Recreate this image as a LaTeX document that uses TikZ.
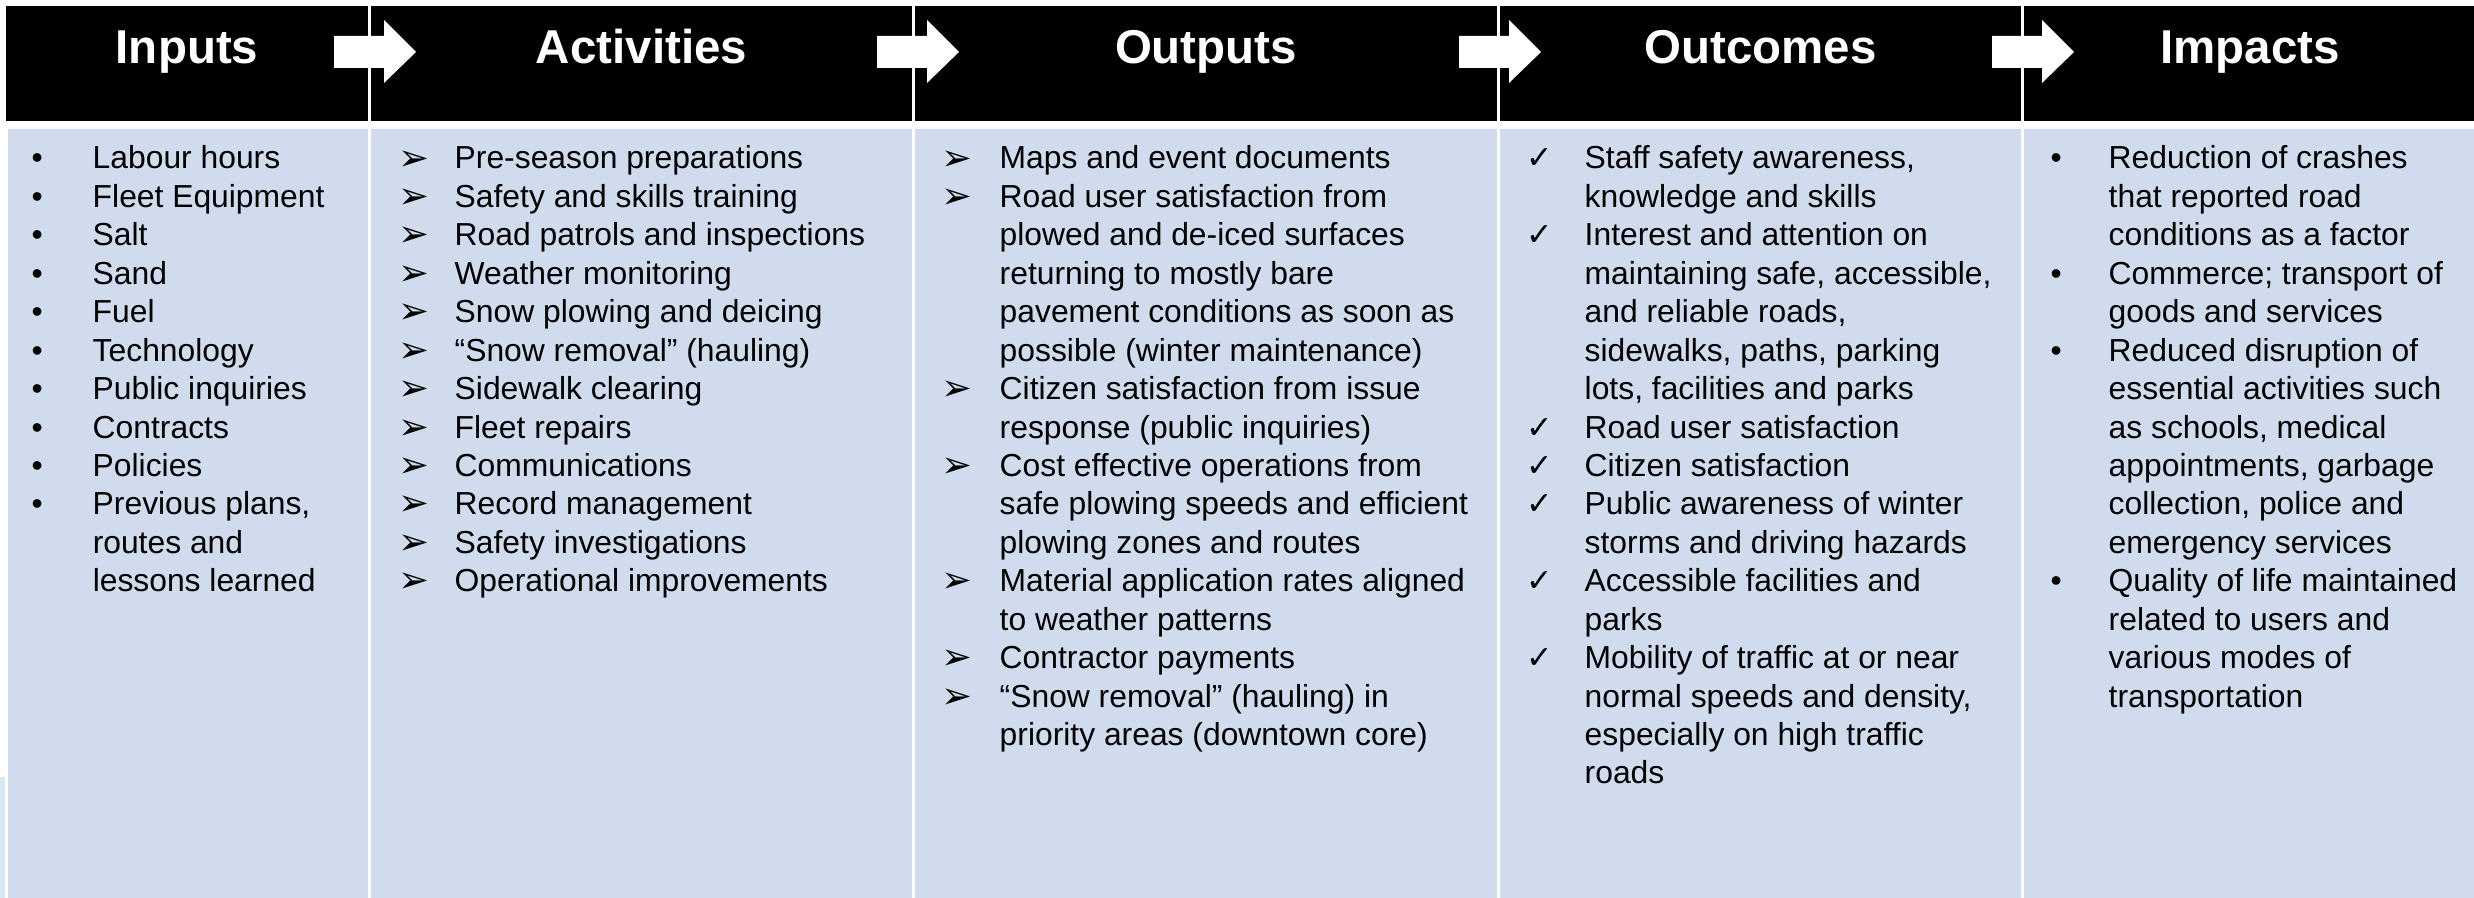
\documentclass[tikz,border=0pt]{standalone}
\usepackage{fontspec}
\setmainfont{Liberation Sans}
\newfontfamily\symfont{DejaVu Sans}
\definecolor{cellblue}{RGB}{208,220,237}
\definecolor{edgecyan}{RGB}{214,232,243}
% list markers, each padded to the indent of its column
\newcommand\bul[1]{\makebox[#1][l]{•}}
\newcommand\arr[1]{\makebox[#1][l]{\raisebox{-0.3pt}{\symfont\fontsize{10.5}{10.5}\selectfont ➢}}}
\newcommand\chk[1]{\makebox[#1][l]{{\symfont\fontsize{9}{9}\selectfont ✓}}}
\tikzset{
  hdrcell/.style={fill=black},
  bodycell/.style={fill=cellblue},
  hdrtext/.style={anchor=base, text=white, inner sep=0pt,
    font=\fontsize{13.5}{16}\selectfont\bfseries},
  lst/.style={anchor=base west, inner sep=0pt, text=black,
    font=\fontsize{9.05}{10.93}\selectfont},
  flowarrow/.style={fill=white}
}
\begin{document}
\begin{tikzpicture}[x=0.01cm,y=-0.01cm]
\useasboundingbox (0,0) rectangle (2474,898);
\fill[white] (0,0) rectangle (2474,898);
% header band and body cells
\fill[hdrcell] (6,6) rectangle (368,121);
\fill[hdrcell] (370.5,6) rectangle (912,121);
\fill[hdrcell] (914.5,6) rectangle (1497,121);
\fill[hdrcell] (1499.5,6) rectangle (2021,121);
\fill[hdrcell] (2023.5,6) rectangle (2474,121);
\fill[bodycell] (8,129) rectangle (368,898);
\fill[bodycell] (370.5,129) rectangle (912,898);
\fill[bodycell] (914.5,129) rectangle (1497,898);
\fill[bodycell] (1499.5,129) rectangle (2021,898);
\fill[bodycell] (2023.5,129) rectangle (2474,898);
\fill[edgecyan] (0,777) rectangle (5,898);
% block arrows between the stages
\foreach \xs in {334,877,1459,1992}
  \fill[flowarrow] (\xs,36) -- ++(50,0) -- ++(0,-16) -- ++(32,32)
    -- ++(-32,31) -- ++(0,-15) -- ++(-50,0) -- cycle;
% stage titles
\node[hdrtext] (hInputs) at (187,64) {Inputs};
\node[hdrtext] (hActivities) at (641.5,64) {Activities};
\node[hdrtext] (hOutputs) at (1206,64) {Outputs};
\node[hdrtext] (hOutcomes) at (1760.5,64) {Outcomes};
\node[hdrtext] (hImpacts) at (2250,64) {Impacts};
% stage contents
\node[lst] (lInputs) at (31,169) {\begin{tabular}[t]{@{}l@{}l@{}}
\bul{17.36pt} & Labour hours\\
\bul{17.36pt} & Fleet Equipment\\
\bul{17.36pt} & Salt\\
\bul{17.36pt} & Sand\\
\bul{17.36pt} & Fuel\\
\bul{17.36pt} & Technology\\
\bul{17.36pt} & Public inquiries\\
\bul{17.36pt} & Contracts\\
\bul{17.36pt} & Policies\\
\bul{17.36pt} & Previous plans,\\
 & routes and\\
 & lessons learned
\end{tabular}};
\node[lst] (lActivities) at (398,169) {\begin{tabular}[t]{@{}l@{}l@{}}
\arr{15.93pt} & Pre-season preparations\\
\arr{15.93pt} & Safety and skills training\\
\arr{15.93pt} & Road patrols and inspections\\
\arr{15.93pt} & Weather monitoring\\
\arr{15.93pt} & Snow plowing and deicing\\
\arr{15.93pt} & “Snow removal” (hauling)\\
\arr{15.93pt} & Sidewalk clearing\\
\arr{15.93pt} & Fleet repairs\\
\arr{15.93pt} & Communications\\
\arr{15.93pt} & Record management\\
\arr{15.93pt} & Safety investigations\\
\arr{15.93pt} & Operational improvements
\end{tabular}};
\node[lst] (lOutputs) at (941,169) {\begin{tabular}[t]{@{}l@{}l@{}}
\arr{16.5pt} & Maps and event documents\\
\arr{16.5pt} & Road user satisfaction from\\
 & plowed and de-iced surfaces\\
 & returning to mostly bare\\
 & pavement conditions as soon as\\
 & possible (winter maintenance)\\
\arr{16.5pt} & Citizen satisfaction from issue\\
 & response (public inquiries)\\
\arr{16.5pt} & Cost effective operations from\\
 & safe plowing speeds and efficient\\
 & plowing zones and routes\\
\arr{16.5pt} & Material application rates aligned\\
 & to weather patterns\\
\arr{16.5pt} & Contractor payments\\
\arr{16.5pt} & “Snow removal” (hauling) in\\
 & priority areas (downtown core)
\end{tabular}};
\node[lst] (lOutcomes) at (1526,169) {\begin{tabular}[t]{@{}l@{}l@{}}
\chk{16.5pt} & Staff safety awareness,\\
 & knowledge and skills\\
\chk{16.5pt} & Interest and attention on\\
 & maintaining safe, accessible,\\
 & and reliable roads,\\
 & sidewalks, paths, parking\\
 & lots, facilities and parks\\
\chk{16.5pt} & Road user satisfaction\\
\chk{16.5pt} & Citizen satisfaction\\
\chk{16.5pt} & Public awareness of winter\\
 & storms and driving hazards\\
\chk{16.5pt} & Accessible facilities and\\
 & parks\\
\chk{16.5pt} & Mobility of traffic at or near\\
 & normal speeds and density,\\
 & especially on high traffic\\
 & roads
\end{tabular}};
\node[lst] (lImpacts) at (2050,169) {\begin{tabular}[t]{@{}l@{}l@{}}
\bul{16.5pt} & Reduction of crashes\\
 & that reported road\\
 & conditions as a factor\\
\bul{16.5pt} & Commerce; transport of\\
 & goods and services\\
\bul{16.5pt} & Reduced disruption of\\
 & essential activities such\\
 & as schools, medical\\
 & appointments, garbage\\
 & collection, police and\\
 & emergency services\\
\bul{16.5pt} & Quality of life maintained\\
 & related to users and\\
 & various modes of\\
 & transportation
\end{tabular}};
\end{tikzpicture}
\end{document}
